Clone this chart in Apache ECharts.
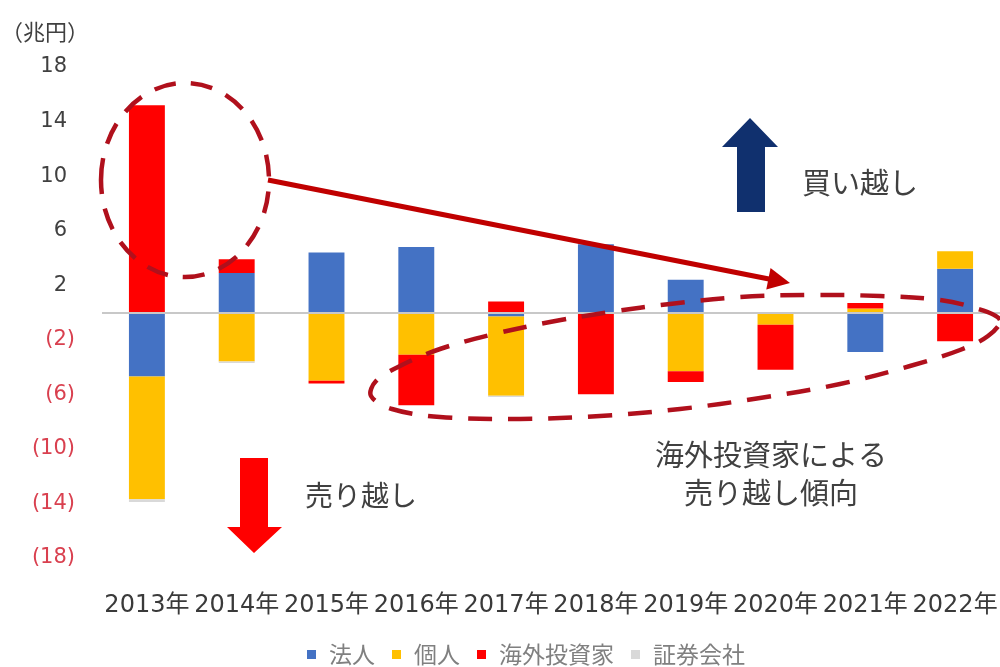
<!DOCTYPE html>
<html lang="ja">
<head>
<meta charset="utf-8">
<title>投資部門別売買動向</title>
<script src="https://cdn.jsdelivr.net/npm/echarts@6/dist/echarts.min.js"></script>
<style>
  html, body { margin: 0; padding: 0; background: #ffffff; }
  #chart { width: 1000px; height: 667px; }
</style>
</head>
<body>
<div id="chart"></div>
<script>
// 年別の投資部門別 売買差額（兆円、プラス＝買い越し／マイナス＝売り越し）
const years = ['2013年', '2014年', '2015年', '2016年', '2017年', '2018年', '2019年', '2020年', '2021年', '2022年'];
const corporates  = [-4.7, 2.9, 4.4, 4.8, -0.3, 5.0, 2.4, 0, -2.9, 3.2];    // 法人
const individuals = [-9.0, -3.6, -5.0, -3.1, -5.8, 0, -4.3, -0.9, 0.3, 1.3]; // 個人
const foreigners  = [15.2, 1.0, -0.2, -3.7, 0.8, -6.0, -0.8, -3.3, 0.4, -2.1]; // 海外投資家
const securities  = [-0.2, -0.1, 0, 0, -0.1, 0, 0, 0, 0, 0];                 // 証券会社

// 縦軸の目盛ラベル（-18〜18 を 4 刻み）
const yTickLabels = [-18, -14, -10, -6, -2, 2, 6, 10, 14, 18];

const seriesNames  = ['法人', '個人', '海外投資家', '証券会社'];
const seriesColors = ['#4472C4', '#FFC000', '#FF0000', '#D9D9D9'];
const seriesData   = [corporates, individuals, foreigners, securities];

const JP_FONT = '"Noto Sans CJK JP", "Noto Sans", sans-serif';
const NUM_FONT = '"DejaVu Sans", "Noto Sans CJK JP", sans-serif';
const DASH_RED = '#B0101C';

const chart = echarts.init(document.getElementById('chart'), null, { renderer: 'canvas' });

const series = seriesNames.map((name, i) => ({
  name: name,
  type: 'bar',
  stack: 'total',
  barWidth: '40%',
  itemStyle: { color: seriesColors[i] },
  data: seriesData[i],
  markLine: i === 0 ? {
    silent: true,
    symbol: 'none',
    label: { show: false },
    lineStyle: { color: '#C8C8C8', width: 2, type: 'solid' },
    data: [{ yAxis: 0 }]
  } : undefined
}));

// 注釈用の矢印（線分＋三角形の頭）
function arrowHead(x1, y1, x2, y2, len, half) {
  const dx = x2 - x1, dy = y2 - y1;
  const d = Math.sqrt(dx * dx + dy * dy);
  const ux = dx / d, uy = dy / d;
  const bx = x2 - ux * len, by = y2 - uy * len;
  return [[x2, y2], [bx - uy * half, by + ux * half], [bx + uy * half, by - ux * half]];
}

const trendStart = [268, 180];
const trendEnd = [790, 283];

const option = {
  animation: false,
  backgroundColor: '#ffffff',
  title: {
    text: '（兆円）',
    left: -4,
    top: 16,
    textStyle: { fontFamily: JP_FONT, fontSize: 22, fontWeight: 'normal', color: '#404040' }
  },
  grid: { left: 102, right: 0, top: 67, bottom: 109, containLabel: false, outerBoundsMode: 'none' },
  legend: {
    data: seriesNames,
    left: 302,
    top: 638,
    icon: 'rect',
    itemWidth: 9,
    itemHeight: 9,
    itemGap: 17,
    textStyle: { fontFamily: JP_FONT, fontSize: 23, color: '#808080', padding: [0, 0, 0, 8] }
  },
  xAxis: {
    type: 'category',
    data: years,
    axisLine: { show: false },
    axisTick: { show: false },
    axisLabel: {
      interval: 0,
      margin: 36,
      fontFamily: NUM_FONT,
      fontSize: 24,
      color: '#3A3A3A'
    }
  },
  yAxis: {
    type: 'value',
    min: -18,
    max: 18,
    interval: 2,
    splitLine: { show: false },
    axisLine: { show: false },
    axisTick: { show: false },
    axisLabel: {
      margin: 27,
      formatter: function (v) {
        if (yTickLabels.indexOf(v) < 0) return '';
        return v < 0 ? '{n|(' + (-v) + ')}' : '{p|' + v + '}';
      },
      rich: {
        n: { fontFamily: NUM_FONT, fontSize: 21, color: '#D9404F' },
        p: { fontFamily: NUM_FONT, fontSize: 21, color: '#404040', padding: [0, 8, 0, 0] }
      }
    }
  },
  series: series,
  graphic: [
    // 2013年の突出した買い越しを囲む破線の楕円
    {
      type: 'ellipse', z: 100,
      shape: { cx: 185, cy: 180, rx: 84, ry: 97 },
      style: { fill: 'none', stroke: DASH_RED, lineWidth: 4.5, lineDash: [22, 15] }
    },
    // 2020年にかけての縮小傾向を示す矢印
    {
      type: 'line', z: 100,
      shape: { x1: trendStart[0], y1: trendStart[1], x2: trendEnd[0] - 16, y2: trendEnd[1] - 3 },
      style: { stroke: '#C00000', lineWidth: 5 }
    },
    {
      type: 'polygon', z: 100,
      shape: { points: arrowHead(trendStart[0], trendStart[1], trendEnd[0], trendEnd[1], 22, 11) },
      style: { fill: '#C00000' }
    },
    // 海外投資家の売り越し部分を囲む破線
    {
      type: 'polygon', z: 100,
      shape: {
        smooth: 0.35,
        points: [
          [1000, 320], [975, 308], [940, 300], [880, 296], [810, 295], [740, 297],
          [670, 304], [610, 312], [550, 322], [490, 335], [440, 349], [402, 365],
          [376, 381], [371, 396], [392, 409], [440, 417], [520, 419], [600, 416],
          [680, 409], [760, 398], [840, 384], [910, 366], [960, 350], [988, 336]
        ]
      },
      style: { fill: 'none', stroke: DASH_RED, lineWidth: 4.5, lineDash: [24, 16] }
    },
    // 買い越し（上向き矢印）
    {
      type: 'polygon', z: 100,
      shape: { points: [[737, 212], [737, 147], [722, 147], [750, 118], [778, 147], [765, 147], [765, 212]] },
      style: { fill: '#10306E' }
    },
    {
      type: 'text', z: 100, x: 802, y: 183,
      style: { text: '買い越し', font: '29px ' + JP_FONT, fill: '#404040', textVerticalAlign: 'middle', verticalAlign: 'middle' }
    },
    // 売り越し（下向き矢印）
    {
      type: 'polygon', z: 100,
      shape: { points: [[240, 458], [268, 458], [268, 527], [282, 527], [254, 553], [227, 527], [240, 527]] },
      style: { fill: '#FF0000' }
    },
    {
      type: 'text', z: 100, x: 305, y: 495,
      style: { text: '売り越し', font: '28px ' + JP_FONT, fill: '#404040', textVerticalAlign: 'middle', verticalAlign: 'middle' }
    },
    {
      type: 'text', z: 100, x: 771, y: 474,
      style: {
        text: '海外投資家による\n売り越し傾向',
        font: '29px ' + JP_FONT,
        lineHeight: 38,
        fill: '#404040',
        align: 'center',
        verticalAlign: 'middle',
        textAlign: 'center',
        textVerticalAlign: 'middle'
      }
    }
  ]
};

chart.setOption(option);
</script>
</body>
</html>
